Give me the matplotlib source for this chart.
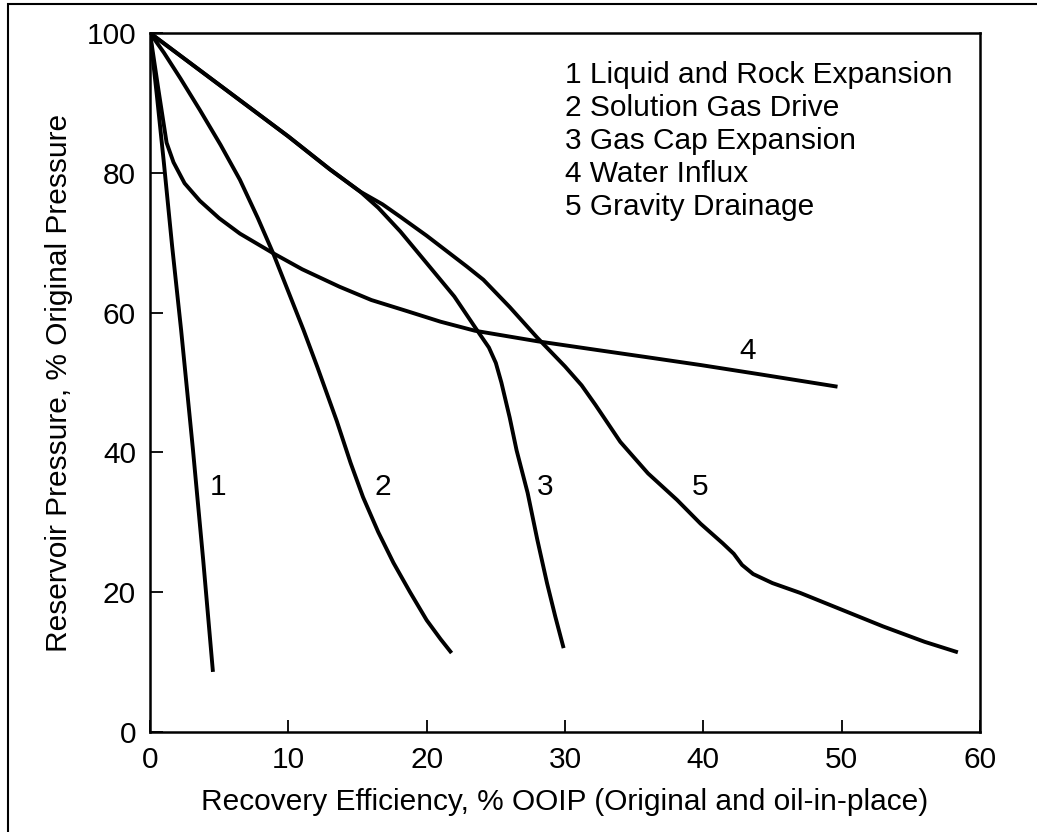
import numpy as np
import matplotlib
matplotlib.use("Agg")
from matplotlib import pyplot as plt
from matplotlib.patches import Rectangle

plt.rcParams['font.family'] = ['Liberation Sans', 'DejaVu Sans']

# curves (recovery %, pressure %)
liq_x = [0, 0.5, 1.0, 1.6, 2.25, 3.1, 3.85, 4.55]
liq_y = [100, 91, 81.5, 69.5, 57.5, 40.5, 24.5, 8.6]

sol_x = [0, 1.0, 2.2, 3.6, 5.1, 6.5, 7.8, 8.9, 10.0, 11.1, 12.1, 13.5, 14.5, 15.4,
         16.5, 17.6, 18.8, 20.0, 21.0, 21.8]
sol_y = [100, 97.2, 93.5, 89, 84, 79, 73.5, 68.5, 63, 57.5, 52.2, 44.5, 38.5, 33.6,
         28.6, 24.2, 20, 16, 13.3, 11.3]

gascap_x = [0, 5, 10, 13, 15.2, 16.5, 18.1, 20.2, 22.0, 23.6, 24.5, 25.0, 25.4, 26.0,
            26.5, 27.3, 28.0, 28.7, 29.3, 29.9]
gascap_y = [100, 92.6, 85.2, 80.5, 77.3, 75, 71.6, 66.6, 62.3, 57.6, 55, 52.8, 50, 45,
            40.3, 34.2, 27.5, 21.3, 16.5, 12]

water_x = [0, 0.6, 1.2, 1.7, 2.5, 3.6, 5.0, 6.5, 8.9, 11.0, 13.7, 16.0, 18.6, 21.0,
           23.5, 28.0, 32.5, 36.0, 39.8, 44.0, 49.7]
water_y = [100, 92, 84.3, 81.5, 78.5, 76, 73.5, 71.3, 68.5, 66.2, 63.7, 61.8, 60.2, 58.7,
           57.4, 55.9, 54.6, 53.6, 52.5, 51.2, 49.4]

grav_x = [0, 5, 10, 13, 15.2, 16.8, 18.1, 20.0, 22.9, 24.1, 26.0, 28.0, 30.0, 31.2,
          32.2, 34.0, 36.0, 38.1, 39.8, 41.4, 42.2, 42.8, 43.6, 45.0, 47.0, 50.0,
          53.0, 56.0, 58.4]
grav_y = [100, 92.6, 85.2, 80.5, 77.3, 75.5, 73.7, 71, 66.6, 64.7, 60.8, 56.4, 52.3, 49.6,
          46.8, 41.5, 37, 33.2, 29.8, 27, 25.5, 23.9, 22.6, 21.3, 19.9, 17.5,
          15.1, 12.9, 11.4]

legend_lines = ["1 Liquid and Rock Expansion", "2 Solution Gas Drive",
                "3 Gas Cap Expansion", "4 Water Influx", "5 Gravity Drainage"]

curve_labels = ["1", "2", "3", "4", "5"]
label_x = [4.9, 16.8, 28.6, 43.2, 39.8]
label_y = [35, 35, 35, 54.5, 35]

fs = 21.5

fig = plt.figure(figsize=(10.37, 8.32), dpi=100)
ax = fig.add_axes([150/1037, 1 - 732/832, 830/1037, 699/832])

lw = 2.8
for xs, ys in [(liq_x, liq_y), (sol_x, sol_y), (gascap_x, gascap_y),
               (water_x, water_y), (grav_x, grav_y)]:
    ax.plot(xs, ys, color='black', lw=lw, solid_capstyle='butt', solid_joinstyle='round')

for t, x, y in zip(curve_labels, label_x, label_y):
    ax.text(x, y, t, fontsize=fs, ha='center', va='center')

for i, t in enumerate(legend_lines):
    ax.text(30.0, 94 - i * 4.72, t, fontsize=fs, ha='left', va='center')

ax.set_xlim(0, 60)
ax.set_ylim(0, 100)
ax.set_xticks([0, 10, 20, 30, 40, 50, 60])
ax.set_yticks([0, 20, 40, 60, 80, 100])
ax.tick_params(direction='in', length=9, width=1.3, labelsize=fs, pad=10)
for s in ax.spines.values():
    s.set_linewidth(1.8)

ax.set_xlabel("Recovery Efficiency, % OOIP (Original and oil-in-place)", fontsize=fs, labelpad=10)
ax.set_ylabel("Reservoir Pressure, % Original Pressure", fontsize=fs, labelpad=10)

# outer frame round the figure
fig.add_artist(Rectangle((8/1037, -0.1), 2, 1 - 4/832 + 0.1, fill=False, lw=1.5,
                         transform=fig.transFigure, clip_on=False))

fig.savefig("out.png", dpi=100)
